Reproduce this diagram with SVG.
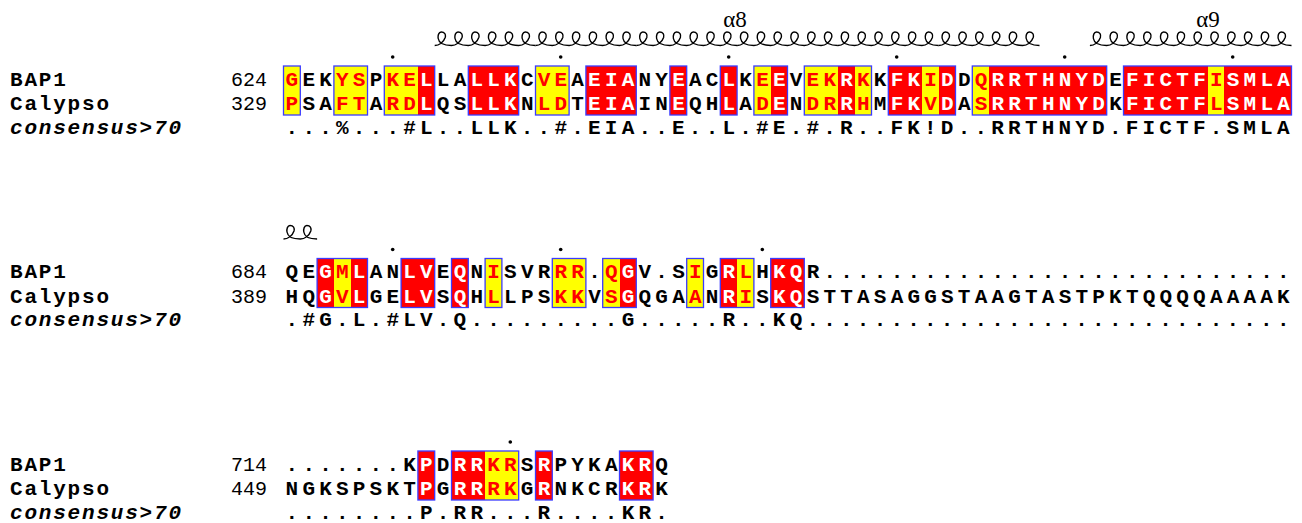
<svg xmlns="http://www.w3.org/2000/svg" width="1302" height="523" viewBox="0 0 1302 523">
<style>
.nm{font-family:"Liberation Mono","DejaVu Sans Mono",monospace;font-weight:bold;font-size:21px;letter-spacing:1.8px;fill:#000}
.cs{font-style:italic}
.num{font-family:"Liberation Mono","DejaVu Sans Mono",monospace;font-size:20px;fill:#000;text-anchor:end}
.sq{font-family:"Liberation Mono","DejaVu Sans Mono",monospace;font-weight:bold;font-size:21px;letter-spacing:4.2px;fill:#000}
.w{fill:#fff}.r{fill:#f00}
.Y{fill:#ff0}.R{fill:#f00}
.bx{fill:none;stroke:#3b3bff;stroke-width:1.3}
.hx{fill:none;stroke:#000;stroke-width:1.4}
.lb{font-family:"Liberation Serif","DejaVu Serif",serif;font-size:23px;text-anchor:middle;fill:#000}
.dt{fill:#000}
</style>
<defs>
<path id="u2" class="hx" d="M0,0c4.5,0 9,-3.5 10.5,-8c0.8,-2.8 -0.5,-5.5 -4,-5.5c-2.5,0 -3.5,3.5 -3,6.5c0.6,4 5,7 13.3,7c4.5,0 9,-3.5 10.5,-8c0.8,-2.8 -0.5,-5.5 -4,-5.5c-2.5,0 -3.5,3.5 -3,6.5c0.6,4 5,7 13.3,7"/>
<path id="u6" class="hx" d="M0,0c4.5,0 9,-3.5 10.5,-8c0.8,-2.8 -0.5,-5.5 -4,-5.5c-2.5,0 -3.5,3.5 -3,6.5c0.6,4 5,7 13.3,7c4.5,0 9,-3.5 10.5,-8c0.8,-2.8 -0.5,-5.5 -4,-5.5c-2.5,0 -3.5,3.5 -3,6.5c0.6,4 5,7 13.3,7c4.5,0 9,-3.5 10.5,-8c0.8,-2.8 -0.5,-5.5 -4,-5.5c-2.5,0 -3.5,3.5 -3,6.5c0.6,4 5,7 13.3,7c4.5,0 9,-3.5 10.5,-8c0.8,-2.8 -0.5,-5.5 -4,-5.5c-2.5,0 -3.5,3.5 -3,6.5c0.6,4 5,7 13.3,7c4.5,0 9,-3.5 10.5,-8c0.8,-2.8 -0.5,-5.5 -4,-5.5c-2.5,0 -3.5,3.5 -3,6.5c0.6,4 5,7 13.3,7c4.5,0 9,-3.5 10.5,-8c0.8,-2.8 -0.5,-5.5 -4,-5.5c-2.5,0 -3.5,3.5 -3,6.5c0.6,4 5,7 13.3,7"/>
</defs>
<rect width="1302" height="523" fill="#fff"/>

<g id="block1">
<g id="b1-helix">
<use href="#u6" x="434.7" y="45.5"/><use href="#u6" x="535.5" y="45.5"/><use href="#u6" x="636.3" y="45.5"/><use href="#u6" x="737.1" y="45.5"/><use href="#u6" x="837.9" y="45.5"/><use href="#u6" x="938.7" y="45.5"/>
<use href="#u6" x="1089.9" y="45.5"/><use href="#u6" x="1190.7" y="45.5"/>
<text class="lb" x="735" y="27">α8</text>
<text class="lb" x="1208" y="27">α9</text>
</g>
<g id="b1-ticks" class="dt">
<circle cx="392.7" cy="57" r="1.8"/><circle cx="560.7" cy="57" r="1.8"/><circle cx="728.7" cy="57" r="1.8"/><circle cx="896.7" cy="57" r="1.8"/><circle cx="1064.7" cy="57" r="1.8"/><circle cx="1232.7" cy="57" r="1.8"/>
</g>
<g id="b1-cells" shape-rendering="crispEdges">
<rect class="Y" x="283.5" y="66" width="16.8" height="49"/><rect class="Y" x="333.9" y="66" width="33.6" height="49"/><rect class="Y" x="384.3" y="66" width="33.6" height="49"/><rect class="Y" x="535.5" y="66" width="33.6" height="49"/><rect class="Y" x="753.9" y="66" width="16.8" height="49"/><rect class="Y" x="804.3" y="66" width="33.6" height="49"/><rect class="Y" x="854.7" y="66" width="16.8" height="49"/><rect class="Y" x="921.9" y="66" width="16.8" height="49"/><rect class="Y" x="972.3" y="66" width="16.8" height="49"/><rect class="Y" x="1207.5" y="66" width="16.8" height="49"/>
<rect class="R" x="417.9" y="66" width="16.8" height="49"/><rect class="R" x="468.3" y="66" width="50.4" height="49"/><rect class="R" x="585.9" y="66" width="50.4" height="49"/><rect class="R" x="669.9" y="66" width="16.8" height="49"/><rect class="R" x="720.3" y="66" width="16.8" height="49"/><rect class="R" x="770.7" y="66" width="16.8" height="49"/><rect class="R" x="837.9" y="66" width="16.8" height="49"/><rect class="R" x="888.3" y="66" width="33.6" height="49"/><rect class="R" x="938.7" y="66" width="16.8" height="49"/><rect class="R" x="989.1" y="66" width="117.6" height="49"/><rect class="R" x="1123.5" y="66" width="84" height="49"/><rect class="R" x="1224.3" y="66" width="67.2" height="49"/>
</g>
<g id="b1-boxes">
<rect class="bx" x="283.5" y="66" width="16.8" height="49"/><rect class="bx" x="333.9" y="66" width="33.6" height="49"/><rect class="bx" x="384.3" y="66" width="50.4" height="49"/><rect class="bx" x="468.3" y="66" width="50.4" height="49"/><rect class="bx" x="535.5" y="66" width="33.6" height="49"/><rect class="bx" x="585.9" y="66" width="50.4" height="49"/><rect class="bx" x="669.9" y="66" width="16.8" height="49"/><rect class="bx" x="720.3" y="66" width="16.8" height="49"/><rect class="bx" x="753.9" y="66" width="33.6" height="49"/><rect class="bx" x="804.3" y="66" width="67.2" height="49"/><rect class="bx" x="888.3" y="66" width="67.2" height="49"/><rect class="bx" x="972.3" y="66" width="134.4" height="49"/><rect class="bx" x="1123.5" y="66" width="168" height="49"/>
</g>
<g id="b1-text">
<text class="nm" x="10" y="85.5">BAP1</text>
<text class="nm" x="10" y="110">Calypso</text>
<text class="nm cs" x="10" y="133.5">consensus&gt;70</text>
<text class="num" x="267" y="85.5">624</text>
<text class="num" x="267" y="110">329</text>
<text class="sq" x="285.6" y="85.5"><tspan class="r">G</tspan>EK<tspan class="r">YS</tspan>P<tspan class="r">KE</tspan><tspan class="w">L</tspan>LA<tspan class="w">LLK</tspan>C<tspan class="r">VE</tspan>A<tspan class="w">EIA</tspan>NY<tspan class="w">E</tspan>AC<tspan class="w">L</tspan>K<tspan class="r">E</tspan><tspan class="w">E</tspan>V<tspan class="r">EK</tspan><tspan class="w">R</tspan><tspan class="r">K</tspan>K<tspan class="w">FK</tspan><tspan class="r">I</tspan><tspan class="w">D</tspan>D<tspan class="r">Q</tspan><tspan class="w">RRTHNYD</tspan>E<tspan class="w">FICTF</tspan><tspan class="r">I</tspan><tspan class="w">SMLA</tspan></text>
<text class="sq" x="285.6" y="110"><tspan class="r">P</tspan>SA<tspan class="r">FT</tspan>A<tspan class="r">RD</tspan><tspan class="w">L</tspan>QS<tspan class="w">LLK</tspan>N<tspan class="r">LD</tspan>T<tspan class="w">EIA</tspan>IN<tspan class="w">E</tspan>QH<tspan class="w">L</tspan>A<tspan class="r">D</tspan><tspan class="w">E</tspan>N<tspan class="r">DR</tspan><tspan class="w">R</tspan><tspan class="r">H</tspan>M<tspan class="w">FK</tspan><tspan class="r">V</tspan><tspan class="w">D</tspan>A<tspan class="r">S</tspan><tspan class="w">RRTHNYD</tspan>K<tspan class="w">FICTF</tspan><tspan class="r">L</tspan><tspan class="w">SMLA</tspan></text>
<text class="sq" x="285.6" y="133.5">...%...#L..LLK..#.EIA..E..L.#E.#.R..FK!D..RRTHNYD.FICTF.SMLA</text>
</g>
</g>

<g id="block2">
<g id="b2-helix">
<use href="#u2" x="283.5" y="239"/>
</g>
<g id="b2-ticks" class="dt">
<circle cx="392.7" cy="249.5" r="1.8"/><circle cx="560.7" cy="249.5" r="1.8"/><circle cx="762.3" cy="249.5" r="1.8"/>
</g>
<g id="b2-cells" shape-rendering="crispEdges">
<rect class="Y" x="333.9" y="258.5" width="16.8" height="49"/><rect class="Y" x="485.1" y="258.5" width="16.8" height="49"/><rect class="Y" x="552.3" y="258.5" width="33.6" height="49"/><rect class="Y" x="602.7" y="258.5" width="16.8" height="49"/><rect class="Y" x="686.7" y="258.5" width="16.8" height="49"/><rect class="Y" x="737.1" y="258.5" width="16.8" height="49"/>
<rect class="R" x="317.1" y="258.5" width="16.8" height="49"/><rect class="R" x="350.7" y="258.5" width="16.8" height="49"/><rect class="R" x="401.1" y="258.5" width="33.6" height="49"/><rect class="R" x="451.5" y="258.5" width="16.8" height="49"/><rect class="R" x="619.5" y="258.5" width="16.8" height="49"/><rect class="R" x="720.3" y="258.5" width="16.8" height="49"/><rect class="R" x="770.7" y="258.5" width="33.6" height="49"/>
</g>
<g id="b2-boxes">
<rect class="bx" x="317.1" y="258.5" width="50.4" height="49"/><rect class="bx" x="401.1" y="258.5" width="33.6" height="49"/><rect class="bx" x="451.5" y="258.5" width="16.8" height="49"/><rect class="bx" x="485.1" y="258.5" width="16.8" height="49"/><rect class="bx" x="552.3" y="258.5" width="33.6" height="49"/><rect class="bx" x="602.7" y="258.5" width="33.6" height="49"/><rect class="bx" x="686.7" y="258.5" width="16.8" height="49"/><rect class="bx" x="720.3" y="258.5" width="33.6" height="49"/><rect class="bx" x="770.7" y="258.5" width="33.6" height="49"/>
</g>
<g id="b2-text">
<text class="nm" x="10" y="278">BAP1</text>
<text class="nm" x="10" y="302.5">Calypso</text>
<text class="nm cs" x="10" y="326">consensus&gt;70</text>
<text class="num" x="267" y="278">684</text>
<text class="num" x="267" y="302.5">389</text>
<text class="sq" x="285.6" y="278">QE<tspan class="w">G</tspan><tspan class="r">M</tspan><tspan class="w">L</tspan>AN<tspan class="w">LV</tspan>E<tspan class="w">Q</tspan>N<tspan class="r">I</tspan>SVR<tspan class="r">RR</tspan>.<tspan class="r">Q</tspan><tspan class="w">G</tspan>V.S<tspan class="r">I</tspan>G<tspan class="w">R</tspan><tspan class="r">L</tspan>H<tspan class="w">KQ</tspan>R............................</text>
<text class="sq" x="285.6" y="302.5">HQ<tspan class="w">G</tspan><tspan class="r">V</tspan><tspan class="w">L</tspan>GE<tspan class="w">LV</tspan>S<tspan class="w">Q</tspan>H<tspan class="r">L</tspan>LPS<tspan class="r">KK</tspan>V<tspan class="r">S</tspan><tspan class="w">G</tspan>QGA<tspan class="r">A</tspan>N<tspan class="w">R</tspan><tspan class="r">I</tspan>S<tspan class="w">KQ</tspan>STTASAGGSTAAGTASTPKTQQQQAAAAK</text>
<text class="sq" x="285.6" y="326">.#G.L.#LV.Q.........G.....R..KQ.............................</text>
</g>
</g>

<g id="block3">
<g id="b3-ticks" class="dt">
<circle cx="510.3" cy="442" r="1.8"/>
</g>
<g id="b3-cells" shape-rendering="crispEdges">
<rect class="R" x="417.9" y="451" width="16.8" height="49"/><rect class="R" x="451.5" y="451" width="33.6" height="49"/><rect class="Y" x="485.1" y="451" width="33.6" height="49"/><rect class="R" x="535.5" y="451" width="16.8" height="49"/><rect class="R" x="619.5" y="451" width="33.6" height="49"/>
</g>
<g id="b3-boxes">
<rect class="bx" x="417.9" y="451" width="16.8" height="49"/><rect class="bx" x="451.5" y="451" width="67.2" height="49"/><rect class="bx" x="535.5" y="451" width="16.8" height="49"/><rect class="bx" x="619.5" y="451" width="33.6" height="49"/>
</g>
<g id="b3-text">
<text class="nm" x="10" y="470.5">BAP1</text>
<text class="nm" x="10" y="495">Calypso</text>
<text class="nm cs" x="10" y="518.5">consensus&gt;70</text>
<text class="num" x="267" y="470.5">714</text>
<text class="num" x="267" y="495">449</text>
<text class="sq" x="285.6" y="470.5">.......K<tspan class="w">P</tspan>D<tspan class="w">RR</tspan><tspan class="r">KR</tspan>S<tspan class="w">R</tspan>PYKA<tspan class="w">KR</tspan>Q</text>
<text class="sq" x="285.6" y="495">NGKSPSKT<tspan class="w">P</tspan>G<tspan class="w">RR</tspan><tspan class="r">RK</tspan>G<tspan class="w">R</tspan>NKCR<tspan class="w">KR</tspan>K</text>
<text class="sq" x="285.6" y="518.5">........P.RR...R....KR.</text>
</g>
</g>
</svg>
